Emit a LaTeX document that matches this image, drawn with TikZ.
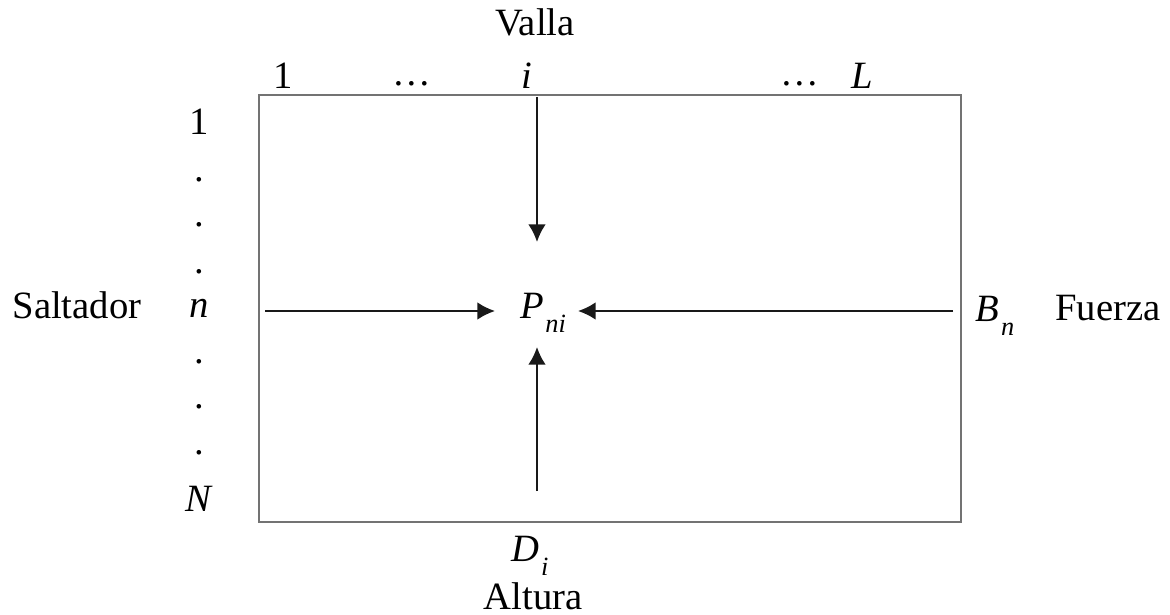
\documentclass[tikz,border=0pt]{standalone}
\usepackage{fontspec}
\setmainfont{Liberation Serif}
\usetikzlibrary{arrows.meta}

\newcommand{\idx}[2]{\textit{#1}\kern1pt\raisebox{-0.8ex}{\fontsize{15}{17}\selectfont\textit{#2}}}

\tikzset{
  lbl/.style={inner sep=0pt,font=\fontsize{22}{26}\selectfont},
  flow/.style={line width=1.2pt,draw=black!90,-{Latex[length=10pt,width=10pt]}}
}

\begin{document}
\begin{tikzpicture}[x=0.02cm,y=-0.02cm]
  \useasboundingbox (0,0) rectangle (1170,615);
  % matrix frame
  \draw[draw=black!55,line width=0.9pt] (259,95) rectangle (961,522);

  % column header
  \node[lbl] (valla) at (535,22) {Valla};
  \node[lbl] (c1) at (283,76) {1};
  \node[lbl] (cdots1) at (412,84) {\dots};
  \node[lbl] (ci) at (527,76) {\textit{i}};
  \node[lbl] (cdots2) at (800,84) {\dots};
  \node[lbl] (cL) at (862,76) {\textit{L}};

  % row header
  \node[lbl] (saltador) at (77,305) {Saltador};
  \node[lbl] (r1) at (199,122) {1};
  \foreach \y in {180,225,272,362,407,453}
    \node[lbl] at (199,\y) {.};
  \node[lbl] (rn) at (199,308) {\textit{n}};
  \node[lbl] (rN) at (199,499) {\textit{N}};

  % centre and margins
  \node[lbl] (pni) at (543,313) {\idx{P}{ni}};
  \node[lbl] (bn) at (995,316) {\idx{B}{n}};
  \node[lbl] (fuerza) at (1108,308) {Fuerza};
  \node[lbl] (di) at (530,556) {\idx{D}{i}};
  \node[lbl] (altura) at (533,596) {Altura};

  \coordinate (top) at (537,97);
  \coordinate (topend) at (537,242);
  \coordinate (left) at (265,311);
  \coordinate (leftend) at (495,311);
  \coordinate (right) at (953,311);
  \coordinate (rightend) at (578,311);
  \coordinate (bottom) at (537,491);
  \coordinate (bottomend) at (537,347);

  \draw[flow] (top) -- (topend);
  \draw[flow] (left) -- (leftend);
  \draw[flow] (right) -- (rightend);
  \draw[flow] (bottom) -- (bottomend);
\end{tikzpicture}
\end{document}
